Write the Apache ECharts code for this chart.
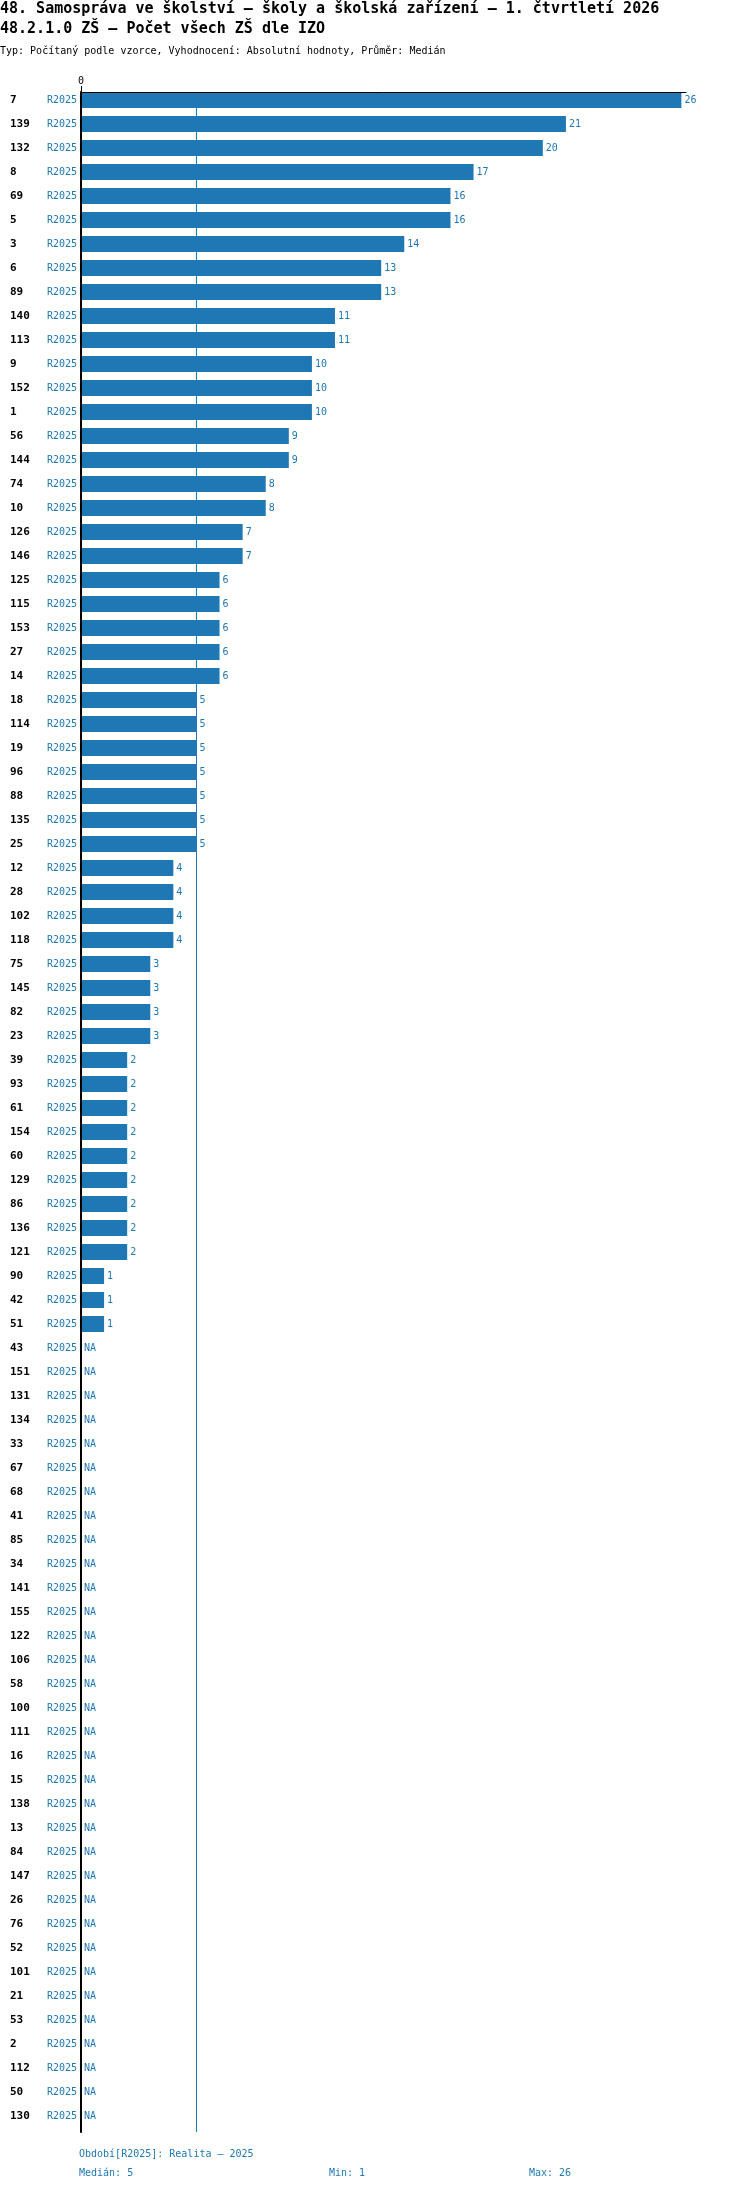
<!DOCTYPE html>
<html>
<head>
<meta charset="utf-8">
<title>48.2.1.0 ZŠ – Počet všech ZŠ dle IZO</title>
<script src="https://cdn.jsdelivr.net/npm/echarts@6.0.0/dist/echarts.min.js"></script>
<style>
  html, body { margin: 0; padding: 0; background: #fff; }
  #chart { width: 750px; height: 2192px; }
</style>
</head>
<body>
<div id="chart"></div>
<script>
// row labels (IZO order as shown, top to bottom)
var izoIds = ['7', '139', '132', '8', '69', '5', '3', '6', '89', '140', '113', '9', '152', '1', '56',
  '144', '74', '10', '126', '146', '125', '115', '153', '27', '14', '18', '114', '19', '96', '88',
  '135', '25', '12', '28', '102', '118', '75', '145', '82', '23', '39', '93', '61', '154', '60',
  '129', '86', '136', '121', '90', '42', '51', '43', '151', '131', '134', '33', '67', '68', '41',
  '85', '34', '141', '155', '122', '106', '58', '100', '111', '16', '15', '138', '13', '84', '147',
  '26', '76', '52', '101', '21', '53', '2', '112', '50', '130'];

// null = NA
var values = [26, 21, 20, 17, 16, 16, 14, 13, 13, 11, 11, 10, 10, 10, 9,
  9, 8, 8, 7, 7, 6, 6, 6, 6, 6, 5, 5, 5, 5, 5,
  5, 5, 4, 4, 4, 4, 3, 3, 3, 3, 2, 2, 2, 2, 2,
  2, 2, 2, 2, 1, 1, 1, null, null, null, null, null, null, null, null,
  null, null, null, null, null, null, null, null, null, null, null, null, null, null, null,
  null, null, null, null, null, null, null, null, null, null];

var periodCode = 'R2025';
var periodName = 'Realita – 2025';
var xTickValues = [0];

var titleLines = [
  '48. Samospráva ve školství – školy a školská zařízení – 1. čtvrtletí 2026',
  '48.2.1.0 ZŠ – Počet všech ZŠ dle IZO',
  'Typ: Počítaný podle vzorce, Vyhodnocení: Absolutní hodnoty, Průměr: Medián'
];

var BLUE = '#1f77b4';
var MONO = '"DejaVu Sans Mono", "Liberation Mono", monospace';

function numbersOnly(arr) {
  return arr.filter(function (v) { return v !== null; });
}

function median(arr) {
  var s = numbersOnly(arr).slice().sort(function (a, b) { return a - b; });
  var m = Math.floor(s.length / 2);
  return s.length % 2 ? s[m] : (s[m - 1] + s[m]) / 2;
}

var known = numbersOnly(values);
var med = median(values);
var minV = Math.min.apply(null, known);
var maxV = Math.max.apply(null, known);

var chart = echarts.init(document.getElementById('chart'));

var option = {
  backgroundColor: '#fff',
  animation: false,
  title: [
    { text: titleLines[0], left: 0, top: 2, padding: 0,
      textStyle: { fontFamily: MONO, fontSize: 15, fontWeight: 'bold', color: '#000' } },
    { text: titleLines[1], left: 0, top: 22, padding: 0,
      textStyle: { fontFamily: MONO, fontSize: 15, fontWeight: 'bold', color: '#000' } },
    { text: titleLines[2], left: 0, top: 46, padding: 0,
      textStyle: { fontFamily: MONO, fontSize: 10, fontWeight: 'normal', color: '#000' } },
    // footer
    { text: 'Období[' + periodCode + ']: ' + periodName, left: 79, top: 2149, padding: 0,
      textStyle: { fontFamily: MONO, fontSize: 10, fontWeight: 'normal', color: BLUE } },
    { text: 'Medián: ' + med, left: 79, top: 2168, padding: 0,
      textStyle: { fontFamily: MONO, fontSize: 10, fontWeight: 'normal', color: BLUE } },
    { text: 'Min: ' + minV, left: 329, top: 2168, padding: 0,
      textStyle: { fontFamily: MONO, fontSize: 10, fontWeight: 'normal', color: BLUE } },
    { text: 'Max: ' + maxV, left: 529, top: 2168, padding: 0,
      textStyle: { fontFamily: MONO, fontSize: 10, fontWeight: 'normal', color: BLUE } }
  ],
  grid: { left: 81, right: 64, top: 92, height: izoIds.length * 24, containLabel: false },
  xAxis: {
    type: 'value',
    position: 'top',
    min: 0,
    max: 26.2,
    z: 3,
    axisLine: { show: true, lineStyle: { color: '#000', width: 1 } },
    axisTick: { show: true, customValues: xTickValues, length: 6, lineStyle: { color: '#000' } },
    axisLabel: { customValues: xTickValues, margin: 6, fontFamily: MONO, fontSize: 10, color: '#000' },
    splitLine: { show: false }
  },
  yAxis: {
    type: 'category',
    data: izoIds,
    inverse: true,
    z: 3,
    axisLine: { show: true, lineStyle: { color: '#000', width: 2 } },
    axisTick: { show: false },
    axisLabel: {
      interval: 0,
      margin: 4,
      padding: [0, 0, 8, 0],
      formatter: function (v) {
        return '{id|' + v + '}{per|' + periodCode + '}';
      },
      rich: {
        id: { fontFamily: MONO, fontWeight: 'bold', fontSize: 11, color: '#000', width: 37, align: 'left' },
        per: { fontFamily: MONO, fontSize: 10, color: BLUE, width: 30, align: 'right' }
      }
    },
    splitLine: { show: false }
  },
  series: [
    {
      name: periodCode,
      type: 'bar',
      data: values.map(function (v) { return v === null ? 0 : v; }),
      barWidth: 16,
      barGap: 0,
      itemStyle: { color: BLUE },
      label: {
        show: true,
        position: 'right',
        distance: 3,
        fontFamily: MONO,
        fontSize: 10,
        color: BLUE,
        formatter: function (p) {
          var v = values[p.dataIndex];
          return v === null ? 'NA' : String(v);
        }
      },
      markLine: {
        silent: true,
        z: 1,
        symbol: 'none',
        label: { show: false },
        lineStyle: { color: BLUE, width: 1, type: 'solid' },
        data: [{ xAxis: med }]
      }
    },
    {
      // empty spacer so the bars sit in the top part of each row
      type: 'bar',
      data: [],
      barWidth: 8,
      barGap: 0,
      silent: true
    }
  ]
};

chart.setOption(option);
</script>
</body>
</html>
